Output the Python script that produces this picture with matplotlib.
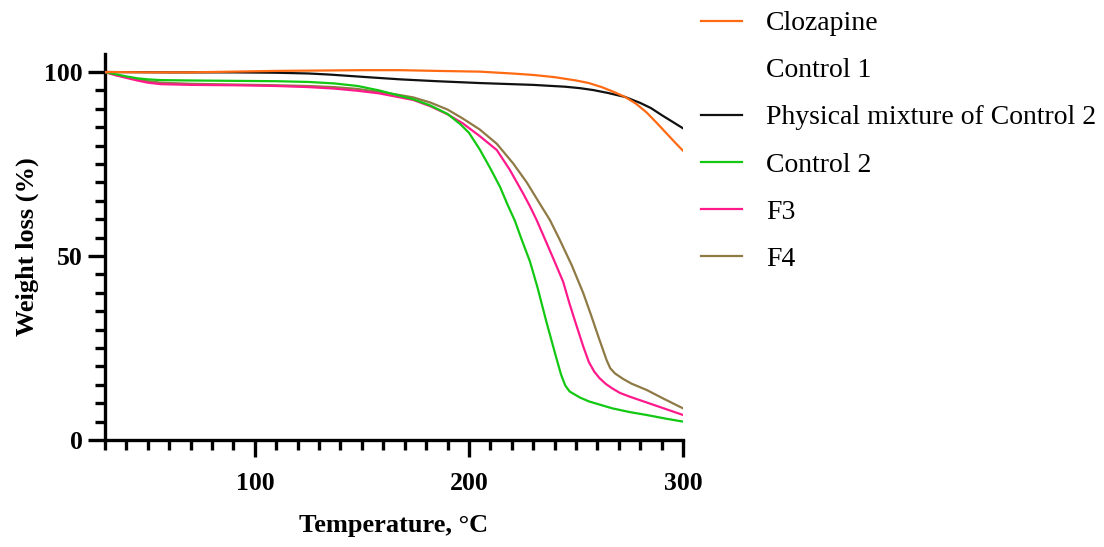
import numpy as np
import matplotlib
matplotlib.use('Agg')
import matplotlib.pyplot as plt
from matplotlib.ticker import FixedLocator, MultipleLocator

# Data (temperature in C, weight %)
cloz_t = [30, 50, 70, 90, 110, 130, 150, 168, 185, 205, 220, 230, 240, 250, 256, 262, 268, 273, 278, 283, 288, 292, 296, 300]
cloz_w = [100, 99.9, 99.9, 100.1, 100.3, 100.4, 100.5, 100.5, 100.3, 100.1, 99.6, 99.2, 98.6, 97.7, 97.0, 95.9, 94.5,
          93.2, 91.4, 89.0, 86.0, 83.5, 81.0, 78.6]

control1_t = []
control1_w = []

phys_t = [30, 60, 90, 110, 125, 135, 145, 155, 168, 185, 205, 230, 245, 252, 258, 265, 273, 280, 285, 290, 295, 300]
phys_w = [100, 99.9, 99.9, 99.8, 99.6, 99.3, 98.9, 98.5, 98.0, 97.5, 97.0, 96.5, 96.0, 95.6, 95.1, 94.3, 93.2, 91.6,
          90.2, 88.3, 86.5, 84.7]

c2_t = [30, 35, 40, 45, 50, 56, 70, 90, 110, 125, 137, 148, 158, 166, 174, 182, 190, 196, 200, 205, 210, 214.5,
        218, 221.5, 224.6, 228.5, 232, 236, 240, 243, 245, 247, 249, 252, 256, 260, 267, 275, 283, 292, 300]
c2_w = [100, 99.4, 98.8, 98.3, 98.0, 97.8, 97.7, 97.6, 97.5, 97.3, 96.9, 96.2, 95.0, 93.8, 92.6, 90.9, 88.6, 85.8,
        83.5, 79.0, 73.8, 68.8, 64.0, 59.5, 54.5, 48.5, 41.5, 32.5, 24.0, 17.8, 14.8, 13.2, 12.5, 11.5, 10.5, 9.8,
        8.6, 7.6, 6.8, 5.8, 5.0]

f3_t = [30, 35, 40, 45, 50, 56, 70, 90, 110, 125, 137, 148, 158, 166, 174, 182, 190, 197, 205, 213, 219, 225.3,
        228.5, 231.6, 236.3, 240, 244, 247, 250, 253.4, 256, 258.5, 261, 264, 267, 270.5, 275, 280, 286, 293, 300]
f3_w = [100, 99.1, 98.4, 97.7, 97.1, 96.7, 96.5, 96.4, 96.2, 95.9, 95.5, 94.9, 94.2, 93.3, 92.4, 90.7, 88.5, 86.1,
        82.6, 78.8, 73.5, 67.0, 63.5, 59.8, 53.5, 48.5, 43.0, 37.0, 31.5, 25.4, 21.2, 18.6, 16.8, 15.2, 14.0, 12.8,
        11.8, 10.8, 9.6, 8.2, 6.8]

f4_t = [30, 35, 40, 45, 50, 56, 70, 90, 110, 125, 137, 148, 158, 166, 174, 182, 190, 197, 205, 213, 220.6, 227,
        233, 237.8, 242.5, 248, 253.4, 257, 260.5, 264.3, 266, 268.2, 272, 276, 283, 291, 300]
f4_w = [100, 99.2, 98.6, 98.0, 97.5, 97.1, 96.8, 96.6, 96.4, 96.2, 95.9, 95.4, 94.6, 93.9, 93.1, 91.7, 89.8, 87.4,
        84.4, 80.5, 75.2, 70.0, 64.3, 59.8, 54.3, 47.5, 39.9, 34.0, 28.0, 21.7, 19.5, 18.1, 16.6, 15.3, 13.6, 11.2, 8.6]

plt.rcParams['font.family'] = ['Liberation Serif', 'DejaVu Serif']

fig = plt.figure(figsize=(11.04, 5.47), dpi=100)
ax = fig.add_axes([0.0951, 0.1956, 0.5236, 0.7064])

ax.plot(control1_t, control1_w, color='white', lw=1.5, label='Control 1', zorder=1)
ax.plot(phys_t, phys_w, color='#111111', lw=1.6, label='Physical mixture of Control 2', zorder=3)
ax.plot(cloz_t, cloz_w, color='#FF6A13', lw=1.6, label='Clozapine', zorder=4)
ax.plot(f4_t, f4_w, color='#8F7A46', lw=1.6, label='F4', zorder=3)
ax.plot(f3_t, f3_w, color='#FF1A8C', lw=1.6, label='F3', zorder=3)
ax.plot(c2_t, c2_w, color='#12C812', lw=1.6, label='Control 2', zorder=3)

ax.set_xlim(30, 300)
ax.set_ylim(0, 105)
for s in ['top', 'right']:
    ax.spines[s].set_visible(False)
for s in ['left', 'bottom']:
    ax.spines[s].set_linewidth(2.4)

ax.xaxis.set_major_locator(FixedLocator([100, 200, 300]))
ax.xaxis.set_minor_locator(MultipleLocator(10))
ax.yaxis.set_major_locator(FixedLocator([0, 50, 100]))
ax.yaxis.set_minor_locator(FixedLocator(np.arange(5, 100, 5)))
ax.tick_params(which='major', length=12, width=2.4, labelsize=18.5)
ax.tick_params(axis='x', which='major', pad=11)
ax.tick_params(axis='y', which='major', pad=4)
ax.tick_params(which='minor', length=7, width=2.4)
for lab in ax.get_xticklabels() + ax.get_yticklabels():
    lab.set_fontweight('bold')

ax.set_xlabel('Temperature, °C', fontsize=19, fontweight='bold', labelpad=14)
ax.set_ylabel('Weight loss (%)', fontsize=19, fontweight='bold', labelpad=4)

# legend order as in the figure
h, l = ax.get_legend_handles_labels()
order = ['Clozapine', 'Control 1', 'Physical mixture of Control 2', 'Control 2', 'F3', 'F4']
hh = [h[l.index(n)] for n in order]
fig.legend(hh, order, loc='upper left', bbox_to_anchor=(0.612, 1.026), frameon=False,
           fontsize=20, handlelength=1.5, handletextpad=0.86, labelspacing=0.78)

fig.savefig('out.png', dpi=100)
